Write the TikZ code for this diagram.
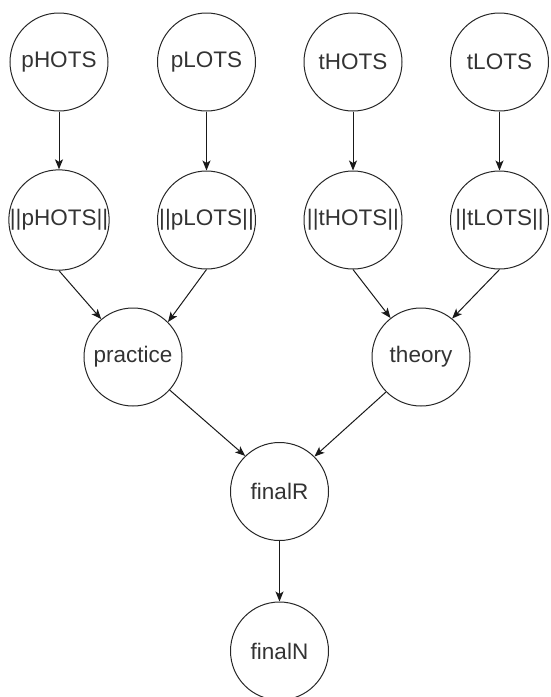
\documentclass[tikz,border=0pt]{standalone}
\usepackage{fontspec}
\setmainfont{Liberation Sans}
\usetikzlibrary{arrows.meta}
\begin{document}
\begin{tikzpicture}[x=1pt,y=-1pt,
  var/.style={circle,draw=black!85,line width=1pt,minimum size=98pt,inner sep=0pt,
    text=black!80,font=\fontsize{22.5}{26}\selectfont},
  link/.style={draw=black!90,line width=1pt,-{Stealth[length=10pt,width=8pt,inset=2.5pt]}}]
\useasboundingbox (0,0) rectangle (550,697);
\node[var] (pH) at (59,62) {pHOTS};
\node[var] (pL) at (206.5,62) {pLOTS};
\node[var] (tH) at (353,62) {tHOTS};
\node[var] (tL) at (499.5,62) {tLOTS};
\node[var] (npH) at (59,220) {||pHOTS||};
\node[var] (npL) at (206.5,220) {||pLOTS||};
\node[var] (ntH) at (353,220) {||tHOTS||};
\node[var] (ntL) at (499.5,220) {||tLOTS||};
\node[var] (pr) at (133,357) {practice};
\node[var] (th) at (421,357) {theory};
\node[var] (fR) at (279.5,491.5) {finalR};
\node[var] (fN) at (279.5,651) {finalN};
\draw[link] (pH) -- (npH);
\draw[link] (pL) -- (npL);
\draw[link] (tH) -- (ntH);
\draw[link] (tL) -- (ntL);
\draw[link] (npH.south) -- (pr.130);
\draw[link] (npL.south) -- (pr.45);
\draw[link] (ntH.south) -- (th.128);
\draw[link] (ntL.south) -- (th.51);
\draw[link] (pr.-42) -- (fR.134);
\draw[link] (th.-135) -- (fR.45);
\draw[link] (fR) -- (fN);
\end{tikzpicture}
\end{document}
